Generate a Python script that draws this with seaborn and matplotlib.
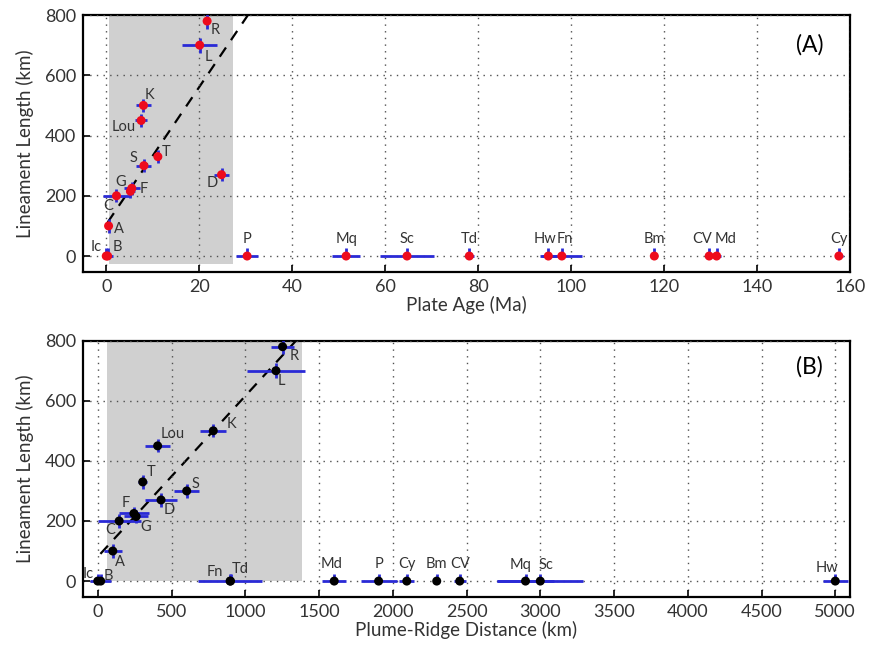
import numpy as np
import pandas as pd
import matplotlib
matplotlib.use("Agg")
import matplotlib.pyplot as plt
import seaborn as sns
from matplotlib.patches import Rectangle

# ---- data -------------------------------------------------------------
names = ["R", "L", "K", "Lou", "S", "T", "D", "G", "F", "C", "A", "Ic", "B",
         "P", "Mq", "Sc", "Td", "Hw", "Fn", "Bm", "CV", "Md", "Cy"]
length_km = [780, 700, 500, 450, 300, 330, 270, 215, 225, 200, 100, 0, 0,
             0, 0, 0, 0, 0, 0, 0, 0, 0, 0]
length_err = [25, 25, 22, 22, 22, 22, 22, 22, 22, 22, 22, 25, 25,
              25, 25, 25, 25, 25, 25, 25, 25, 25, 25]

plate_age = [21.7, 20.1, 8.0, 7.5, 8.1, 11.1, 24.8, 5.2, 5.5, 2.2, 0.5, 0.0, 0.3,
             30.3, 51.6, 64.7, 78.1, 95.1, 98.0, 117.9, 129.7, 131.3, 157.6]
plate_age_err = [0.5, 3.8, 1.6, 1.3, 1.6, 0.7, 1.6, 1.0, 1.7, 2.9, 0.5, 0.0, 1.2,
                 2.4, 3.0, 5.8, 1.0, 1.9, 4.3, 0.5, 1.0, 1.0, 0.8]

ridge_dist = [1253, 1208, 783, 406, 603, 305, 429, 260, 245, 145, 102, 0, 20,
              1904, 2900, 3000, 900, 5000, 897, 2298, 2454, 1603, 2095]
ridge_dist_err = [79, 195, 87, 86, 85, 32, 107, 80, 100, 145, 62, 0, 70,
                  122, 190, 293, 20, 85, 215, 25, 40, 80, 50]

# linear trends through the young / near-ridge group
fit_a = dict(intercept=105.0, slope=22.8, x0=0.3, x1=31.0)
fit_b = dict(intercept=81.0, slope=0.535, x0=18.0, x1=1360.0)

# shaded ranges
shade_a = dict(x0=0.6, x1=27.2, y0=-25, y1=800)
shade_b = dict(x0=65, x1=1385, y0=0, y1=800)

# label offsets (pixels) for each point label
offs_a = {"R": (8, -9), "L": (9, -12), "K": (6, 10), "Lou": (-17, -7),
          "S": (-10, 8), "T": (8, 5), "D": (-9, -8), "G": (-10, 9), "F": (12, -1),
          "C": (-8, -10), "A": (10, -3), "Ic": (-10, 9), "B": (10, 9),
          "Hw": (-3, 17), "Fn": (3, 17), "CV": (-7, 17), "Md": (9, 17)}
offs_b = {"R": (12, -9), "L": (5, -10), "K": (18, 7), "Lou": (15, 12),
          "T": (8, 10), "S": (9, 7), "D": (8, -10), "F": (-8, 10), "G": (10, -11),
          "C": (-9, -9), "A": (7, -11), "Ic": (-10, 7), "B": (8, 5),
          "Fn": (-15, 9), "Td": (10, 12), "Md": (-3, 17), "Mq": (-5, 16),
          "Sc": (6, 16), "Hw": (-8, 13)}

df = pd.DataFrame({"name": names, "length": length_km, "length_err": length_err,
                   "age": plate_age, "age_err": plate_age_err,
                   "dist": ridge_dist, "dist_err": ridge_dist_err})

# ---- style ------------------------------------------------------------
sns.set_style("white")
plt.rcParams["font.family"] = ["Lato", "DejaVu Sans"]
plt.rcParams["axes.linewidth"] = 1.6

BLUE = "#2a2ad6"
TXT = "#333333"

fig = plt.figure(figsize=(8.72, 6.45), dpi=100)
ax_a = fig.add_axes([0.0952, 0.5783, 0.8796, 0.3984])
ax_b = fig.add_axes([0.0952, 0.0744, 0.8796, 0.3974])


def draw_panel(ax, xcol, xerrcol, mcolor, fit, shade, offs, xlim, xticks,
               xlabel, tag, tag_y):
    ax.add_patch(Rectangle((shade["x0"], shade["y0"]),
                           shade["x1"] - shade["x0"], shade["y1"] - shade["y0"],
                           facecolor="#d0d0d0", edgecolor="none", zorder=0))
    ax.set_xlim(*xlim)
    ax.set_ylim(-53, 800)
    ax.set_xticks(xticks)
    ax.set_yticks([0, 200, 400, 600, 800])
    ax.grid(True, color="#505050", linestyle=(0, (1, 3.8)), linewidth=1.0,
            zorder=1)
    ax.set_axisbelow(False)

    # trend line
    xs = np.array([fit["x0"], fit["x1"]])
    line = pd.DataFrame({"x": xs, "y": fit["intercept"] + fit["slope"] * xs})
    sns.lineplot(data=line, x="x", y="y", ax=ax, color="black",
                 linestyle=(0, (5, 4)), linewidth=1.6, zorder=2)

    # error bars
    ylo = np.minimum(df["length_err"], df["length"] + 10)
    ax.errorbar(df[xcol], df["length"], xerr=df[xerrcol],
                yerr=[ylo, df["length_err"]], fmt="none", ecolor=BLUE,
                elinewidth=2.0, capsize=0, zorder=3)
    sns.scatterplot(data=df, x=xcol, y="length", ax=ax, color=mcolor,
                    s=42, edgecolor="none", zorder=4, legend=False)

    for _, r in df.iterrows():
        dx, dy = offs.get(r["name"], (0, 17))
        ax.annotate(r["name"], (r[xcol], r["length"]), xytext=(dx, dy),
                    textcoords="offset pixels", ha="center", va="center",
                    fontsize=10.5, color=TXT, zorder=5)

    ax.tick_params(axis="both", direction="in", length=5, width=1.2,
                   labelsize=13, labelcolor=TXT, color="black",
                   bottom=True, left=True, pad=5)
    ax.set_xlabel(xlabel, fontsize=13.5, color=TXT, labelpad=1)
    ax.set_ylabel("Lineament Length (km)", fontsize=13.5, color=TXT,
                  labelpad=8)
    for sp in ax.spines.values():
        sp.set_color("black")
        sp.set_linewidth(1.6)
    ax.text(0.947, tag_y, tag, transform=ax.transAxes, ha="center",
            va="center", fontsize=16.5, color="black")


draw_panel(ax_a, "age", "age_err", "#ee0b1c", fit_a, shade_a, offs_a,
           (-5, 160), np.arange(0, 161, 20), "Plate Age (Ma)", "(A)", 0.885)
draw_panel(ax_b, "dist", "dist_err", "black", fit_b, shade_b, offs_b,
           (-100, 5100), np.arange(0, 5001, 500), "Plume-Ridge Distance (km)",
           "(B)", 0.9)

fig.savefig("out.png", dpi=100)
